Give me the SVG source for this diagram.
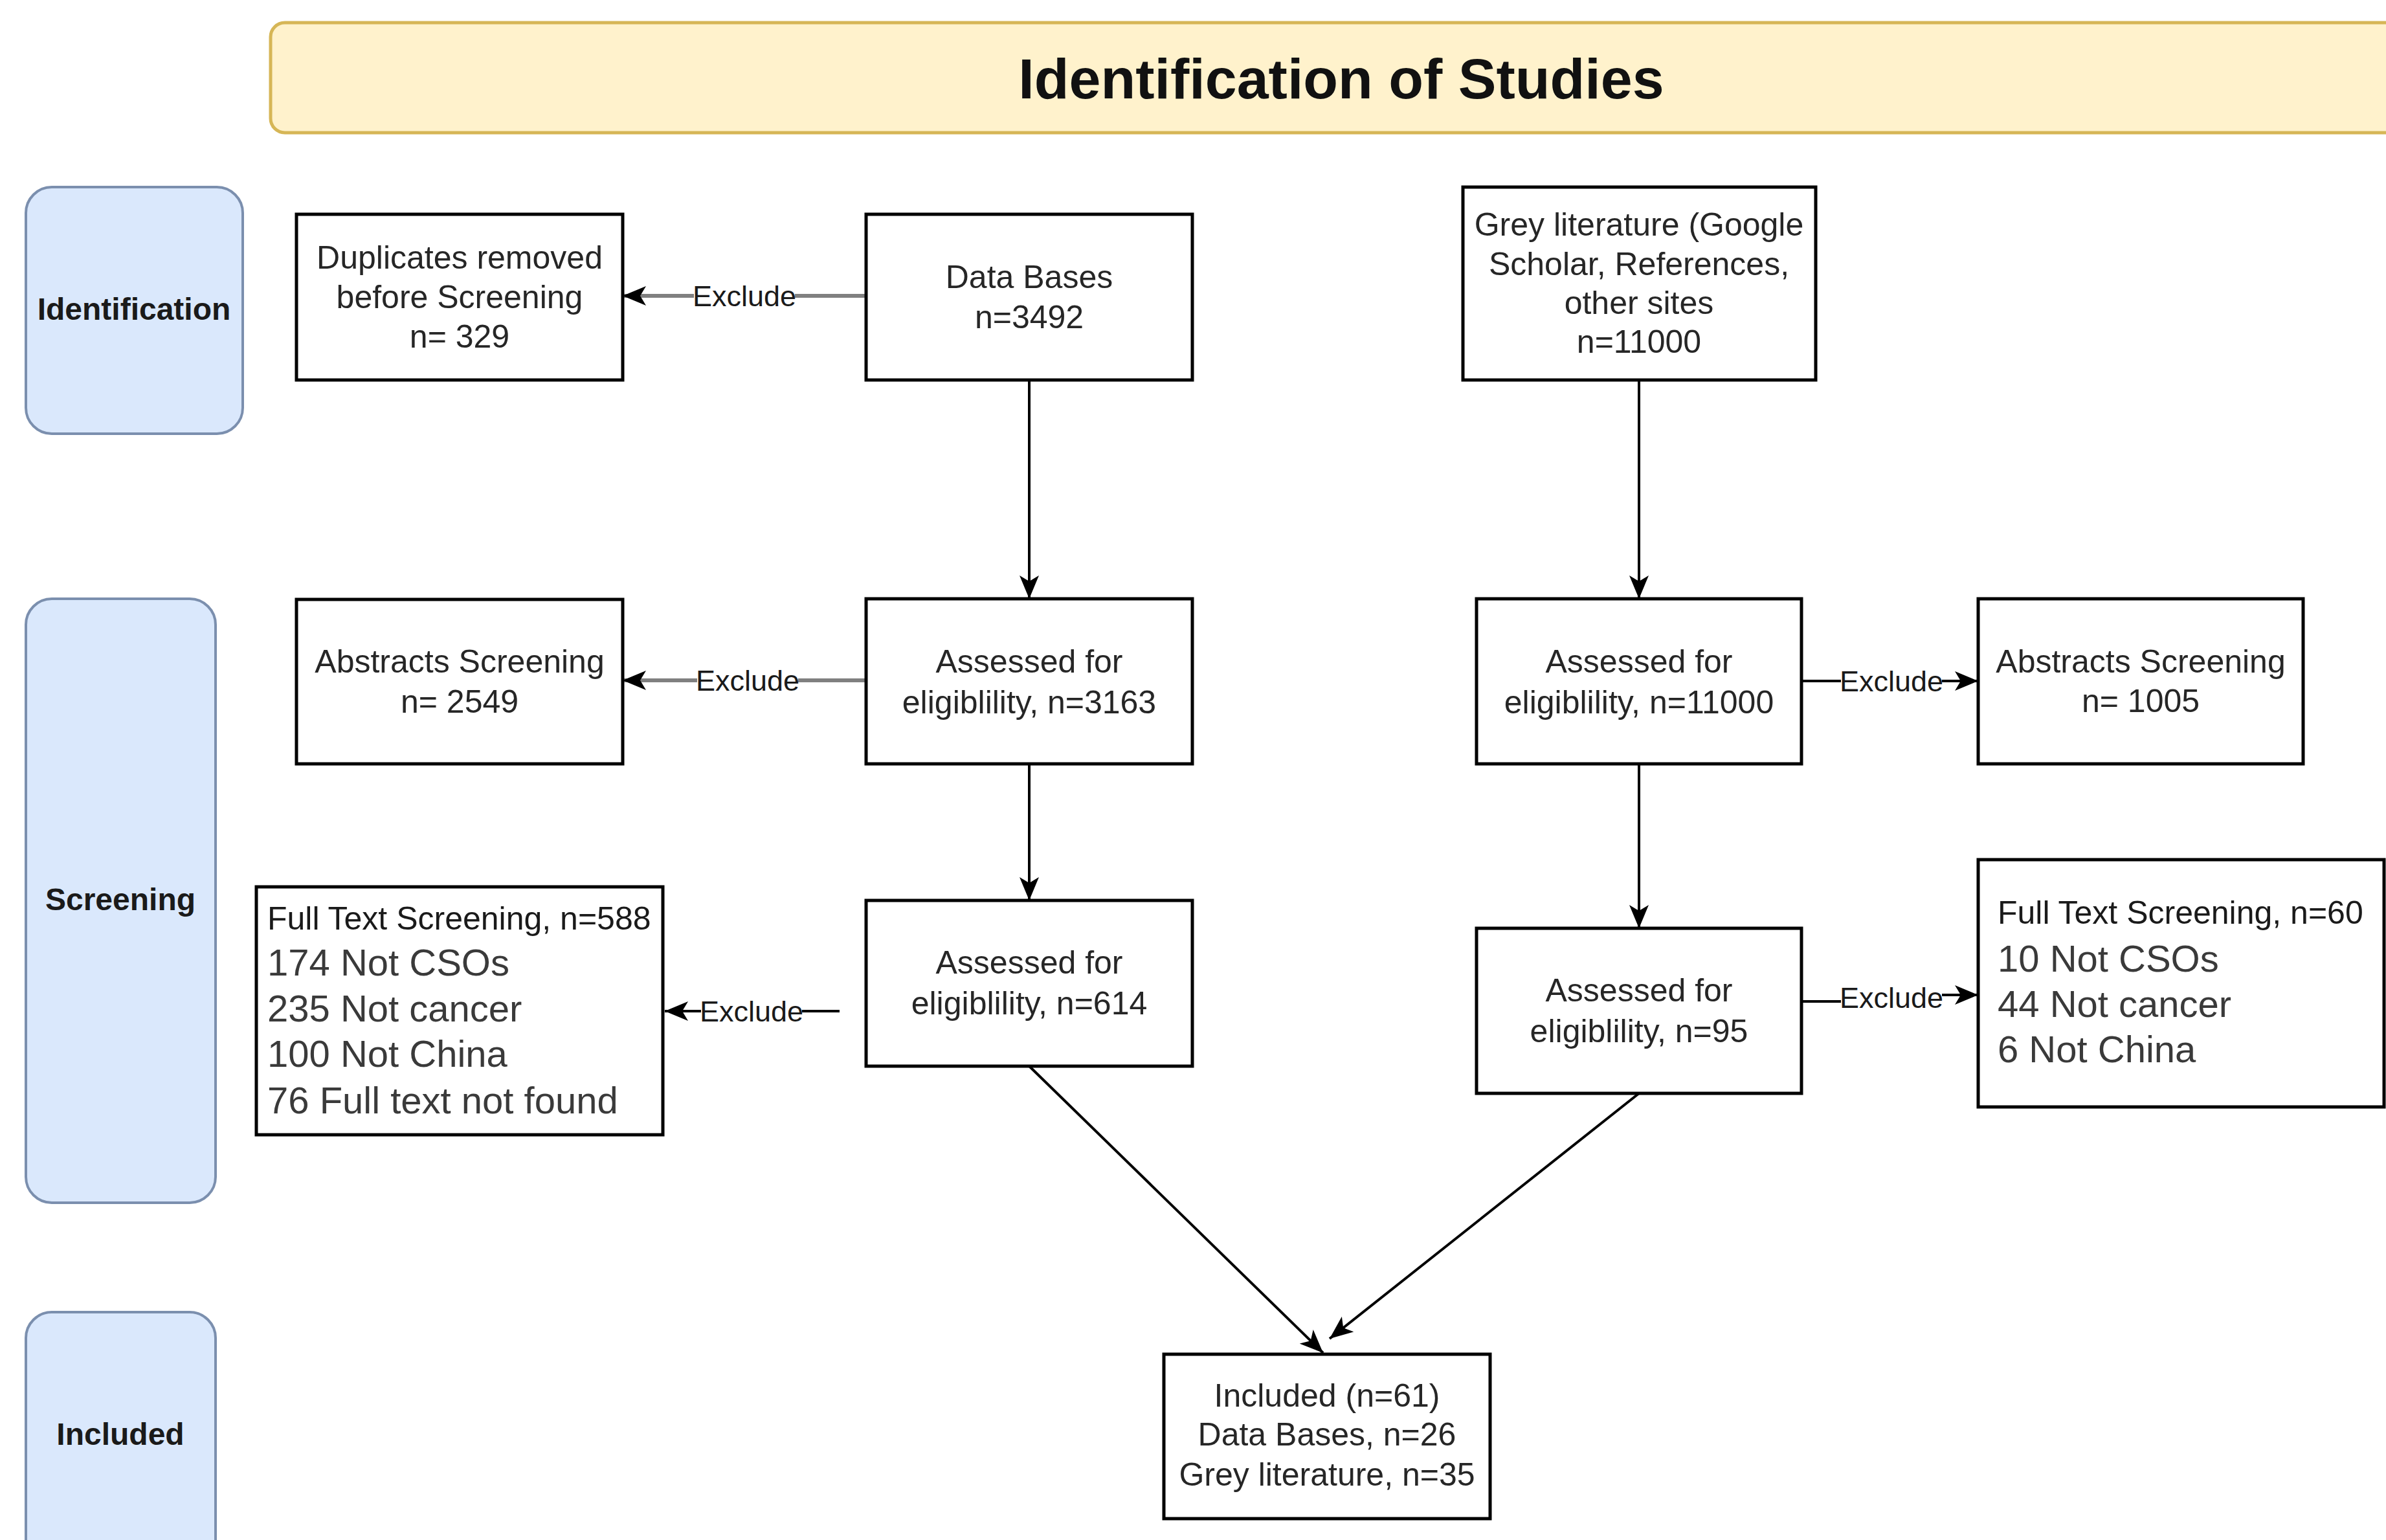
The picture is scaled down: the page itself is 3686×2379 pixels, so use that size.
<svg xmlns="http://www.w3.org/2000/svg" width="3686" height="2379" viewBox="0 0 3686 2379">
<style>
text{font-family:"Liberation Sans",Arial,sans-serif;dominant-baseline:central}
.box{fill:#fff;stroke:#000;stroke-width:5}
.lane{fill:#dae8fc;stroke:#7b8fae;stroke-width:4}
.t{font-size:50px;fill:#262626;text-anchor:middle}
.tl{font-size:50px;fill:#1a1a1a}
.tb{font-size:58px;fill:#3a3a3a}
.lt{font-size:48px;font-weight:bold;fill:#1a1a1a;text-anchor:middle}
.ex{font-size:45px;fill:#1a1a1a;text-anchor:middle}
.exbg{fill:#fff}
.c{fill:none;stroke:#000;stroke-width:4}
.cg{fill:none;stroke:#808080;stroke-width:6}
</style>
<defs>
<marker id="arr" viewBox="0 0 36 30" refX="36" refY="15" markerWidth="36" markerHeight="30" orient="auto" markerUnits="userSpaceOnUse"><path d="M0,0 L36,15 L0,30 L9,15 z" fill="#000"/></marker>
</defs>
<rect width="3686" height="2379" fill="#fff"/>

<g id="title">
<rect x="418" y="35" width="3300" height="170" rx="22" fill="#fff2cc" stroke="#d6b656" stroke-width="5"/>
<text x="2072" y="121" font-size="88" font-weight="bold" fill="#111" text-anchor="middle">Identification of Studies</text>
</g>

<g id="lane-identification">
<rect class="lane" x="40" y="289" width="335" height="381" rx="40"/>
<text class="lt" x="207" y="477">Identification</text>
</g>
<g id="lane-screening">
<rect class="lane" x="40" y="925" width="293" height="933" rx="40"/>
<text class="lt" x="186" y="1389">Screening</text>
</g>
<g id="lane-included">
<rect class="lane" x="40" y="2027" width="293" height="420" rx="40"/>
<text class="lt" x="186" y="2215">Included</text>
</g>

<g id="connectors">
<path class="cg" d="M1338,457 H962" marker-end="url(#arr)"/>
<path class="c" d="M1590,587 V925" marker-end="url(#arr)"/>
<path class="c" d="M2532,587 V925" marker-end="url(#arr)"/>
<path class="cg" d="M1338,1051 H962" marker-end="url(#arr)"/>
<path class="c" d="M1590,1180 V1391" marker-end="url(#arr)"/>
<path class="c" d="M1297,1562 H1027" marker-end="url(#arr)"/>
<path class="c" d="M2783,1052 H3056" marker-end="url(#arr)"/>
<path class="c" d="M2532,1180 V1434" marker-end="url(#arr)"/>
<path class="c" d="M2783,1547 H2922 V1537 H3056" marker-end="url(#arr)"/>
<path class="c" d="M1590,1647 L2044,2090" marker-end="url(#arr)"/>
<path class="c" d="M2532,1689 L2054,2068" marker-end="url(#arr)"/>
<rect class="exbg" x="1072" y="437" width="156" height="40"/>
<text class="ex" x="1150" y="457">Exclude</text>
<rect class="exbg" x="1077" y="1031" width="156" height="40"/>
<text class="ex" x="1155" y="1051">Exclude</text>
<rect class="exbg" x="1083" y="1542" width="156" height="40"/>
<text class="ex" x="1161" y="1562">Exclude</text>
<rect class="exbg" x="2844" y="1032" width="156" height="40"/>
<text class="ex" x="2922" y="1052">Exclude</text>
<rect class="exbg" x="2844" y="1521" width="156" height="40"/>
<text class="ex" x="2922" y="1541">Exclude</text>
</g>

<g id="duplicates">
<rect class="box" x="458" y="331" width="504" height="256"/>
<text class="t" x="710" y="398">Duplicates removed</text>
<text class="t" x="710" y="459">before Screening</text>
<text class="t" x="710" y="520">n= 329</text>
</g>
<g id="databases">
<rect class="box" x="1338" y="331" width="504" height="256"/>
<text class="t" x="1590" y="428">Data Bases</text>
<text class="t" x="1590" y="490">n=3492</text>
</g>
<g id="grey">
<rect class="box" x="2260" y="289" width="545" height="298"/>
<text class="t" x="2532" y="347">Grey literature (Google</text>
<text class="t" x="2532" y="408">Scholar, References,</text>
<text class="t" x="2532" y="468">other sites</text>
<text class="t" x="2532" y="528">n=11000</text>
</g>
<g id="abstracts-left">
<rect class="box" x="458" y="926" width="504" height="254"/>
<text class="t" x="710" y="1022">Abstracts Screening</text>
<text class="t" x="710" y="1084">n= 2549</text>
</g>
<g id="assessed-3163">
<rect class="box" x="1338" y="925" width="504" height="255"/>
<text class="t" x="1590" y="1022">Assessed for</text>
<text class="t" x="1590" y="1085">eligiblility, n=3163</text>
</g>
<g id="assessed-11000">
<rect class="box" x="2281" y="925" width="502" height="255"/>
<text class="t" x="2532" y="1022">Assessed for</text>
<text class="t" x="2532" y="1085">eligiblility, n=11000</text>
</g>
<g id="abstracts-right">
<rect class="box" x="3056" y="925" width="502" height="255"/>
<text class="t" x="3307" y="1022">Abstracts Screening</text>
<text class="t" x="3307" y="1083">n= 1005</text>
</g>
<g id="fulltext-left">
<rect class="box" x="396" y="1370" width="628" height="383"/>
<text class="tl" x="413" y="1419">Full Text Screening, n=588</text>
<text class="tb" x="413" y="1486">174 Not CSOs</text>
<text class="tb" x="413" y="1557">235 Not cancer</text>
<text class="tb" x="413" y="1627">100 Not China</text>
<text class="tb" x="413" y="1699">76 Full text not found</text>
</g>
<g id="assessed-614">
<rect class="box" x="1338" y="1391" width="504" height="256"/>
<text class="t" x="1590" y="1487">Assessed for</text>
<text class="t" x="1590" y="1550">eligiblility, n=614</text>
</g>
<g id="assessed-95">
<rect class="box" x="2281" y="1434" width="502" height="255"/>
<text class="t" x="2532" y="1530">Assessed for</text>
<text class="t" x="2532" y="1593">eligiblility, n=95</text>
</g>
<g id="fulltext-right">
<rect class="box" x="3056" y="1328" width="627" height="382"/>
<text class="tl" x="3086" y="1410">Full Text Screening, n=60</text>
<text class="tb" x="3086" y="1480">10 Not CSOs</text>
<text class="tb" x="3086" y="1550">44 Not cancer</text>
<text class="tb" x="3086" y="1620">6 Not China</text>
</g>
<g id="included">
<rect class="box" x="1798" y="2092" width="504" height="254"/>
<text class="t" x="2050" y="2156">Included (n=61)</text>
<text class="t" x="2050" y="2216">Data Bases, n=26</text>
<text class="t" x="2050" y="2278">Grey literature, n=35</text>
</g>
</svg>
